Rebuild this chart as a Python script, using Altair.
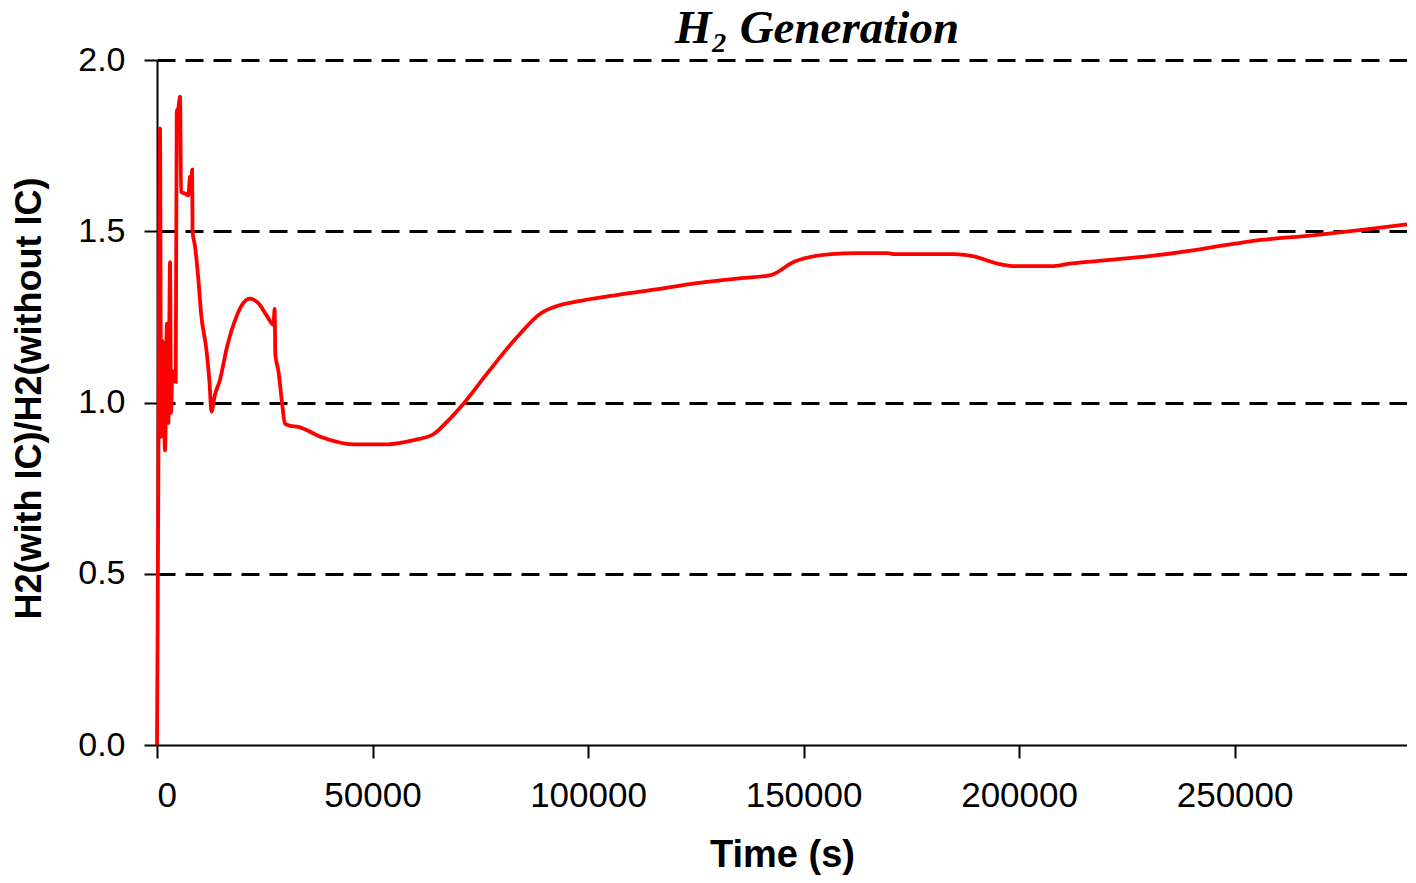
import altair as alt
import pandas as pd

# Time (s)
time_s = [0, 150, 300, 700, 950, 1300, 1600, 1866, 2300, 2640, 3027, 3259, 3569,
          4034, 4343, 4575, 4962, 5350, 5581, 6510, 7285, 7672, 7904, 8150, 8250,
          8833, 9607, 10226, 11470, 12200, 12630, 13400, 14600, 16200, 18500,
          20000, 21600, 23500, 25500, 27000, 27300, 27450, 28200, 29000, 29700,
          30900, 32800, 37900, 45600, 53400, 59600, 64200, 67300, 71200, 76600,
          83600, 89000, 92900, 97500, 105200, 114500, 126200, 135500, 142400,
          147800, 156400, 162600, 169500, 171100, 185000, 188900, 195900, 199000,
          207500, 212100, 219100, 230700, 242300, 253200, 268700, 280000, 290000]
# H2(with IC)/H2(without IC)
ratio = [0.0, 0.35, 0.75, 1.80, 0.90, 1.18, 1.00, 0.86, 1.23, 0.94, 1.41, 0.97, 1.09,
         1.09, 1.06, 1.85, 1.86, 1.893, 1.615, 1.61, 1.605, 1.66, 1.62, 1.68, 1.50,
         1.455, 1.358, 1.26, 1.153, 1.056, 0.973, 1.02, 1.066, 1.16, 1.253,
         1.29, 1.303, 1.29, 1.253, 1.227, 1.273, 1.14, 1.09, 1.0, 0.938,
         0.932, 0.929, 0.900, 0.878, 0.878, 0.890, 0.908, 0.944, 0.998, 1.085,
         1.192, 1.260, 1.282, 1.295, 1.311, 1.328, 1.350, 1.363, 1.372,
         1.411, 1.433, 1.436, 1.436, 1.433, 1.433, 1.428, 1.403, 1.398,
         1.398, 1.406, 1.414, 1.428, 1.448, 1.470, 1.489, 1.505, 1.520]

x_ticks = [0, 50000, 100000, 150000, 200000, 250000]
y_ticks = [0.0, 0.5, 1.0, 1.5, 2.0]

df = pd.DataFrame({"t": time_s, "r": ratio, "order": list(range(len(time_s)))})

line = alt.Chart(df).mark_line(color="#FF0000", strokeWidth=3.8,
                               interpolate="monotone").encode(
    x=alt.X("t:Q",
            scale=alt.Scale(domain=[0, 290000], nice=False, zero=False),
            axis=alt.Axis(values=x_ticks, format="d", title="Time (s)",
                          grid=False, tickSize=13, labelPadding=20,
                          titleY=110, titleBaseline="middle",
                          titleFontSize=38, labelFontSize=35, zindex=1)),
    y=alt.Y("r:Q",
            scale=alt.Scale(domain=[0, 2], nice=False),
            axis=alt.Axis(values=y_ticks, format=".1f",
                          title="H2(with IC)/H2(without IC)",
                          grid=True, gridDash=[18, 10], gridWidth=3,
                          gridColor="black",
                          gridOpacity={"condition": {"test": "datum.value === 0", "value": 0},
                                       "value": 1},
                          tickSize=13, labelPadding=19,
                          titleX=-128, titleY=338, titleAngle=270,
                          titleFontSize=36,
                          titleAlign="center", titleBaseline="middle")),
    order="order:Q",
)

chart = line.properties(
    width=1250,
    height=685,
    title=alt.TitleParams(
        "H₂ Generation",
        font="Liberation Serif", fontStyle="italic", fontWeight="bold",
        fontSize=47, color="black", anchor="middle", dx=35, dy=10, offset=0,
    ),
    autosize=alt.AutoSizeParams(type="none"),
    padding={"left": 149, "top": 52, "right": 0, "bottom": 130},
).configure_view(
    stroke=None
).configure_axis(
    labelFont="Liberation Sans", labelFontSize=34, labelColor="black",
    titleFont="Liberation Sans", titleFontSize=35, titleFontWeight="bold",
    titleColor="black",
    domainColor="black", domainWidth=2, tickColor="black", tickWidth=2,
).configure_title(frame="group")

chart.save("out.html", embed_options={"renderer": "svg", "actions": False})
